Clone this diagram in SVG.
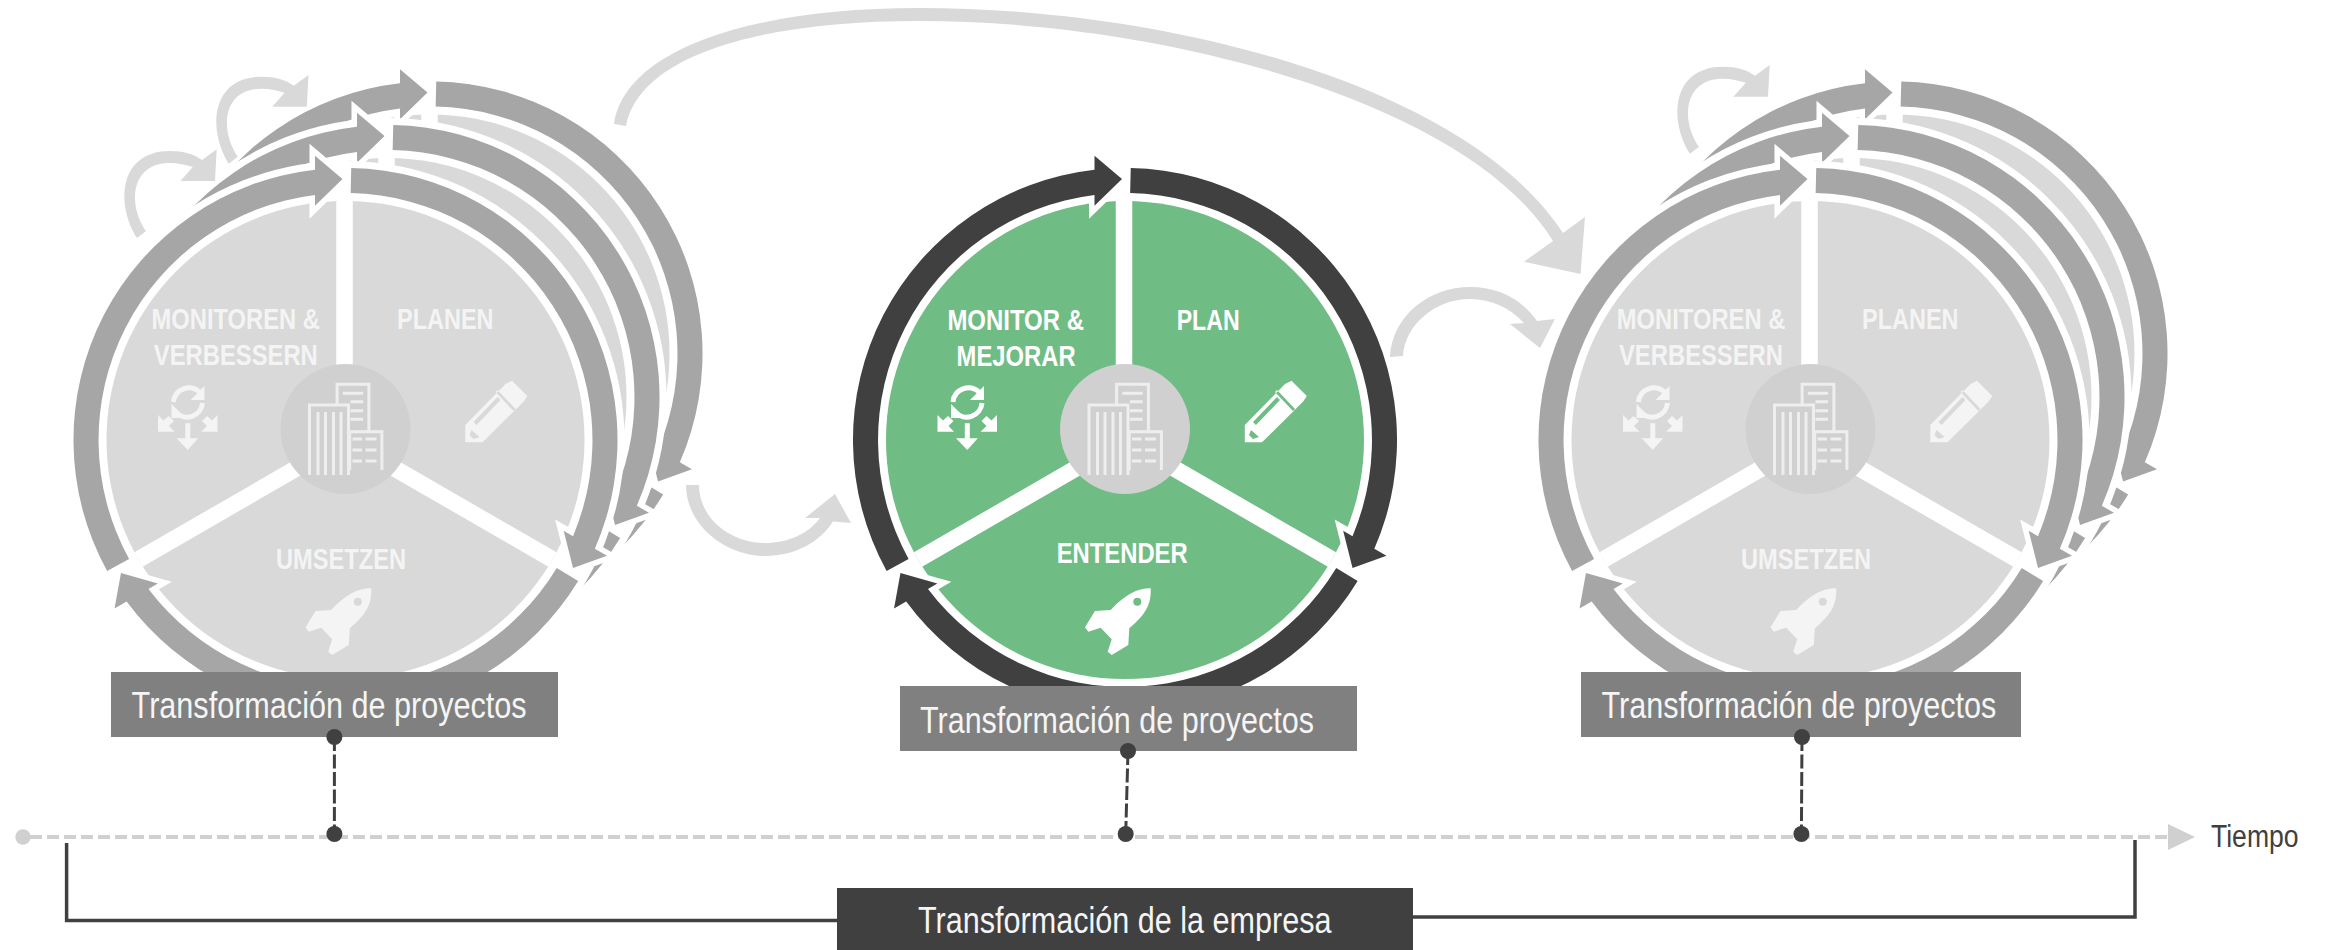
<svg xmlns="http://www.w3.org/2000/svg" xmlns:xlink="http://www.w3.org/1999/xlink" width="2328" height="950" viewBox="0 0 2328 950">
<style>
.grey{--d:#d9d9d9;--r:#a6a6a6;--i:#f4f4f4}
.green{--d:#70bc85;--r:#404040;--i:#ffffff}
.disc{fill:var(--d)}
.halo{fill:#fff;stroke:#fff;stroke-width:14}
.seg{fill:var(--r);stroke:#fff;stroke-width:11;paint-order:stroke;stroke-linejoin:miter}
.spoke{stroke:#fff;stroke-width:16.5;fill:none}
.hub{fill:#d0d0d0}
.bld{fill:none;stroke:#eeeeee;stroke-width:3}
.ic{fill:var(--i)}
.ics{fill:none;stroke:var(--i);stroke-width:5}
.t{font-family:"Liberation Sans",Arial,sans-serif;font-weight:700;font-size:29px;text-anchor:start;fill:var(--i)}
.lt{font-family:"Liberation Sans",Arial,sans-serif;font-size:37px;fill:#f5f5f5}
.lb{fill:#808080}
.lb2{fill:#404040}
.flow{fill:#d9d9d9}
.tl{stroke:#d0d0d0;stroke-width:4;stroke-dasharray:12 5;fill:none}
.dash{stroke:#404040;stroke-width:3;stroke-dasharray:14 3.5;fill:none}
.dot{fill:#404040}
.br{stroke:#404040;stroke-width:3.5;fill:none}
</style>
<defs>
<path id="seg" class="seg" d="M-238.4 131A272 272 0 0 1-30.5-270.3L-30.5-284.3L-3-261L-30.5-234.3L-30.5-245.1A247 247 0 0 0-216.4 119Z"/>
<g id="wheel">
<circle class="halo" r="272"/>
<circle class="disc" r="239"/>
<path class="spoke" d="M-1 0V-240"/>
<path class="spoke" d="M0 0L207 119.5"/>
<path class="spoke" d="M0 0L-207 119.5"/>
<use xlink:href="#seg" href="#seg"/>
<use xlink:href="#seg" href="#seg" transform="rotate(240)"/>
<use xlink:href="#seg" href="#seg" transform="rotate(120)"/>
</g>
<g id="icons">
<circle class="hub" cy="-11" r="65"/>
<path class="bld" d="M-36 35V-35H3V35M-27.5-28V35M-20-28V35M-12-28V35M-4.5-28V35M-8.4-35V-55.7H23.4V-8.3M4.2 30V-8.3H36.4V30"/>
<path class="bld" d="M-2.7-46.7H17.6M5-38.3H17.6M5-29.3H17.6M5-20.7H17.6M7-1H16.5M20-1H31M7 10H16.5M20 10H31M7 21H16.5M20 21H31"/>
<path class="ic" fill-rule="evenodd" d="M25.7 148.3C14 148.5 3 152-14.3 170L-30 171L-40 187.3L-36.7 191.7L-24.3 187.7L-13.3 199.3L-17.3 211.7L-13.3 215L3.3 205L4.3 188.3C20 175 26.5 165 25.7 148.3ZM16.3 161.7A4 4 0 1 0 8.3 161.7A4 4 0 1 0 16.3 161.7Z"/>
<path class="ic" fill-rule="evenodd" d="M119.8 2.3L119.8-15L160-56L166.5-59.3L181.8-44L178-38.3L137 2.3ZM152-50L170-31L168-29L150-48ZM128-18L152-43L155-40L131-15ZM126-10L134-3L128-1L124-5Z"/>
<path class="ics" d="M-172-38A15.5 15.5 0 0 1-146-48"/>
<path class="ic" d="M-141-54V-40H-155Z"/>
<path class="ics" d="M-143-37A15.5 15.5 0 0 1-170-28"/>
<path class="ic" d="M-174-36V-22H-160Z"/>
<path class="ic" d="M-160.2-16.7H-155.2V-1.7H-147.3L-157.7 10L-169-1.7H-160.2ZM-187.5-8.3V-25L-182-19.5L-177-24L-171.5-19L-176.5-14L-171-8.3ZM-128-8.3V-25L-133.5-19.5L-138.5-24L-143.5-19L-138.5-14L-144.4-8.3Z"/>
</g>
</defs>

<g id="project-left" class="grey">
<use xlink:href="#wheel" href="#wheel" transform="translate(430.5 353.5)"/>
<use xlink:href="#wheel" href="#wheel" transform="translate(387.5 397)"/>
<use xlink:href="#wheel" href="#wheel" transform="translate(345.5 440)"/>
<use xlink:href="#icons" href="#icons" transform="translate(345.5 440)"/>
<text class="t" x="151.5" y="329" textLength="168.5" lengthAdjust="spacingAndGlyphs">MONITOREN &amp;</text>
<text class="t" x="153.8" y="365" textLength="164" lengthAdjust="spacingAndGlyphs">VERBESSERN</text>
<text class="t" x="397" y="329" textLength="96.5" lengthAdjust="spacingAndGlyphs">PLANEN</text>
<text class="t" x="276" y="569" textLength="130" lengthAdjust="spacingAndGlyphs">UMSETZEN</text>
<rect class="lb" x="111" y="672" width="447" height="65"/>
<text class="lt" x="131.6" y="718" textLength="395" lengthAdjust="spacingAndGlyphs">Transformación de proyectos</text>
</g>

<g id="project-center" class="green">
<use xlink:href="#wheel" href="#wheel" transform="translate(1125 440)"/>
<use xlink:href="#icons" href="#icons" transform="translate(1125 440)"/>
<text class="t" x="947.4" y="330" textLength="136.6" lengthAdjust="spacingAndGlyphs">MONITOR &amp;</text>
<text class="t" x="956.6" y="366" textLength="119" lengthAdjust="spacingAndGlyphs">MEJORAR</text>
<text class="t" x="1176.7" y="330" textLength="63" lengthAdjust="spacingAndGlyphs">PLAN</text>
<text class="t" x="1056.7" y="562.5" textLength="131" lengthAdjust="spacingAndGlyphs">ENTENDER</text>
<rect class="lb" x="900" y="686" width="457" height="65"/>
<text class="lt" x="920" y="732.5" textLength="394" lengthAdjust="spacingAndGlyphs">Transformación de proyectos</text>
</g>

<g id="project-right" class="grey">
<use xlink:href="#wheel" href="#wheel" transform="translate(1895.5 353.5)"/>
<use xlink:href="#wheel" href="#wheel" transform="translate(1852.5 397)"/>
<use xlink:href="#wheel" href="#wheel" transform="translate(1810.5 440)"/>
<use xlink:href="#icons" href="#icons" transform="translate(1810.5 440)"/>
<text class="t" x="1616.8" y="329" textLength="168.5" lengthAdjust="spacingAndGlyphs">MONITOREN &amp;</text>
<text class="t" x="1619" y="365" textLength="164" lengthAdjust="spacingAndGlyphs">VERBESSERN</text>
<text class="t" x="1862" y="329" textLength="96.5" lengthAdjust="spacingAndGlyphs">PLANEN</text>
<text class="t" x="1741" y="569" textLength="130" lengthAdjust="spacingAndGlyphs">UMSETZEN</text>
<rect class="lb" x="1581" y="672" width="440" height="65"/>
<text class="lt" x="1601.4" y="718" textLength="395" lengthAdjust="spacingAndGlyphs">Transformación de proyectos</text>
</g>

<g id="connectors">
<path id="loop" class="flow" d="M137 238C116 205 118 151 170 151C183 151 194 154 202 160L216.7 149.3L215 181H180.4L192.8 167C186 165 178 163 170 163C130 163 128 205 146 231Z"/>
<use xlink:href="#loop" href="#loop" transform="translate(91.8 -74.3)"/>
<use xlink:href="#loop" href="#loop" transform="translate(1553 -84.3)"/>
<path class="flow" d="M614 124C625 50 750 8 919 8C1180 8 1470 90 1563 233L1585 217L1580.5 274L1524 261.7L1553 241C1470 105 1170 21 919 21C760 21 640 55 626 126Z"/>
<path class="flow" d="M1390 357C1392 315 1430 287 1470 287C1500 287 1522 300 1537 321L1555 319L1540 348L1510 324L1524 323C1510 308 1492 299 1470 299C1435 299 1405 325 1403 356Z"/>
<path class="flow" d="M686 485C686 525 725 556 765 556C795 556 820 542 833 521.5L851 523L835 494L805 518L820 518C808 534 788 543 765 543C730 543 699 518 699 485Z"/>

<path class="tl" d="M30 837H2168"/>
<circle cx="23" cy="837" r="7.7" fill="#d0d0d0"/>
<path d="M2168 824L2195 837L2168 850Z" fill="#d0d0d0"/>
<text x="2211" y="846.5" textLength="87.5" lengthAdjust="spacingAndGlyphs" font-family="'Liberation Sans',Arial,sans-serif" font-size="31" fill="#404040">Tiempo</text>

<path class="dash" d="M334.4 737V834"/>
<circle class="dot" cx="334.4" cy="737" r="8"/><circle class="dot" cx="334.4" cy="834" r="8"/>
<path class="dash" d="M1128 751L1125.7 834"/>
<circle class="dot" cx="1128" cy="751" r="8"/><circle class="dot" cx="1125.7" cy="834" r="8"/>
<path class="dash" d="M1802 737L1801.4 834"/>
<circle class="dot" cx="1802" cy="737" r="8"/><circle class="dot" cx="1801.4" cy="834" r="8"/>

<path class="br" d="M66.6 843V920.5H840"/>
<path class="br" d="M1410 917H2135V840"/>
</g>

<g id="enterprise">
<rect class="lb2" x="837" y="888" width="576" height="62"/>
<text class="lt" x="918" y="933" textLength="413.5" lengthAdjust="spacingAndGlyphs">Transformación de la empresa</text>
</g>
</svg>
